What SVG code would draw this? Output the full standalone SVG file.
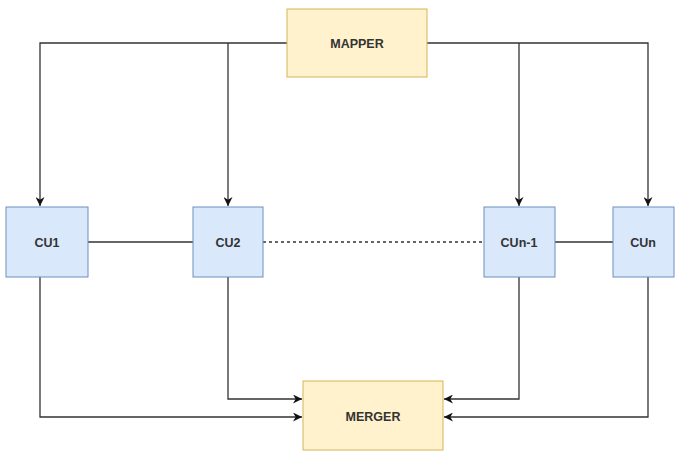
<svg xmlns="http://www.w3.org/2000/svg" width="676" height="452" viewBox="0 0 676 452">
<style>
.y{fill:#fff2cc;stroke:#d6b656;stroke-width:1}
.b{fill:#dae8fc;stroke:#6c8ebf;stroke-width:1}
.t{font-family:"Liberation Sans",Arial,sans-serif;font-weight:bold;font-size:12.5px;fill:#333;text-anchor:middle;dominant-baseline:central}
.c{fill:none;stroke:#333;stroke-width:1.3}
</style>
<defs>
<marker id="a" viewBox="0 0 10 10" refX="10" refY="5" markerWidth="9" markerHeight="9" markerUnits="userSpaceOnUse" orient="auto">
<path d="M0,0 L10,5 L0,10 L3,5 Z" fill="#111"/>
</marker>
</defs>
<rect width="676" height="452" fill="#fff"/>
<g id="connectors">
<path class="c" d="M287,43 H40 V206" marker-end="url(#a)"/>
<path class="c" d="M228,43 V206" marker-end="url(#a)"/>
<path class="c" d="M427,43 H648 V206" marker-end="url(#a)"/>
<path class="c" d="M519,43 V206" marker-end="url(#a)"/>
<path class="c" d="M88,242 H193"/>
<path class="c" d="M263,242 H484" stroke-dasharray="3 3"/>
<path class="c" d="M555,242 H613"/>
<path class="c" d="M40,277 V417 H302" marker-end="url(#a)"/>
<path class="c" d="M228,277 V399 H302" marker-end="url(#a)"/>
<path class="c" d="M519,277 V399 H444" marker-end="url(#a)"/>
<path class="c" d="M648,277 V417 H444" marker-end="url(#a)"/>
</g>
<g id="mapper"><rect class="y" x="287" y="9" width="140" height="68"/><text class="t" x="357" y="44">MAPPER</text></g>
<g id="cu1"><rect class="b" x="6" y="207" width="82" height="70"/><text class="t" x="47" y="243">CU1</text></g>
<g id="cu2"><rect class="b" x="193" y="207" width="70" height="70"/><text class="t" x="228" y="243">CU2</text></g>
<g id="cun1"><rect class="b" x="484" y="207" width="71" height="70"/><text class="t" x="519" y="243">CUn-1</text></g>
<g id="cun"><rect class="b" x="613" y="207" width="61" height="70"/><text class="t" x="643" y="243">CUn</text></g>
<g id="merger"><rect class="y" x="303" y="381" width="140" height="69"/><text class="t" x="373" y="417">MERGER</text></g>
</svg>
